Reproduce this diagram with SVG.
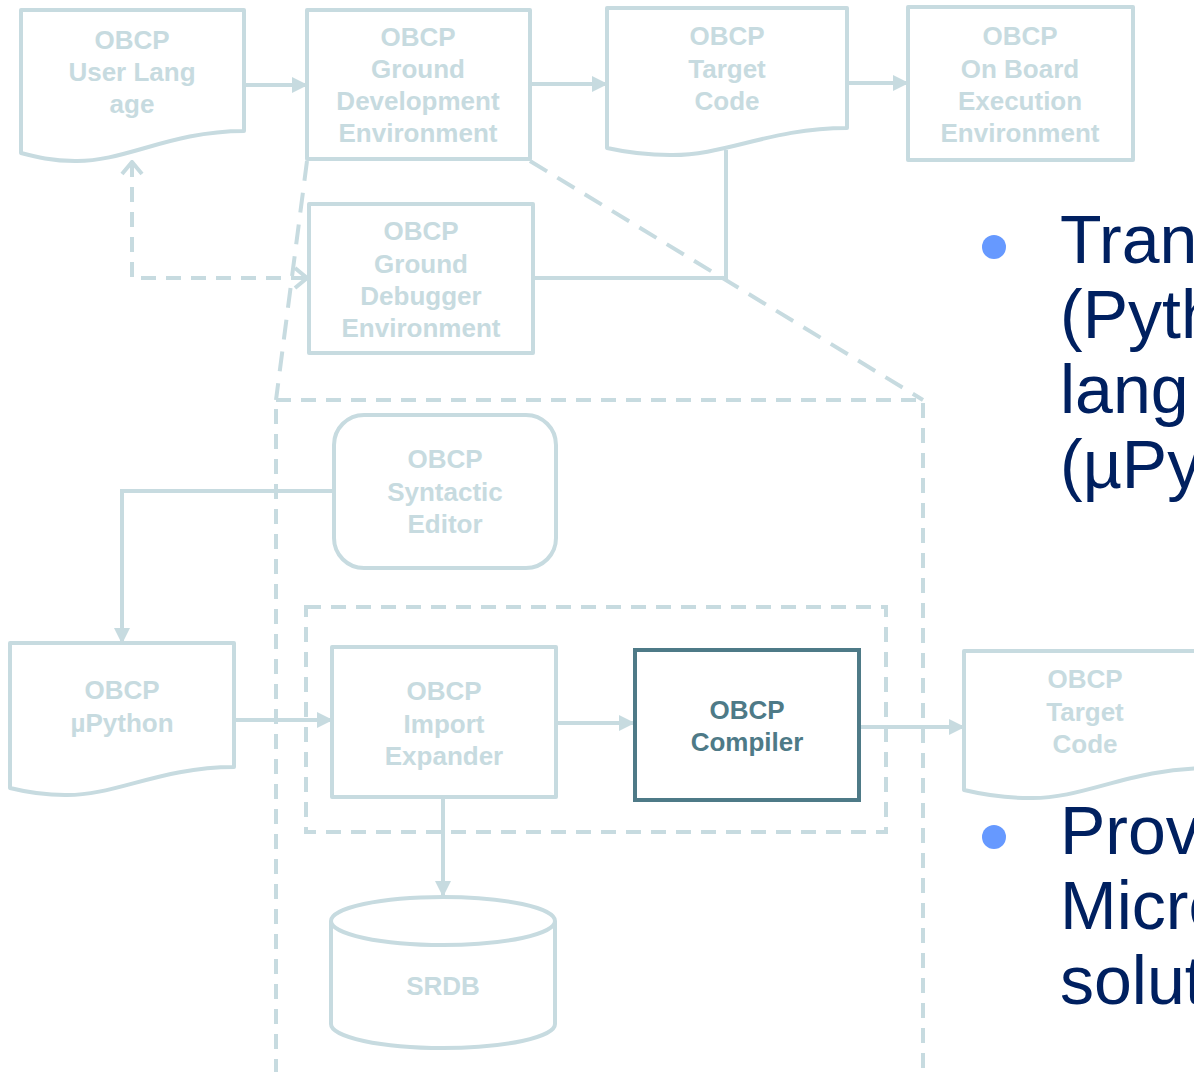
<svg xmlns="http://www.w3.org/2000/svg" width="1194" height="1072" viewBox="0 0 1194 1072">
  <defs>
    <style>
      .shape { fill: #ffffff; stroke: #c7dbe0; stroke-width: 4; stroke-linejoin: round; }
      .dark { fill: #ffffff; stroke: #4e7a87; stroke-width: 4; }
      .lbl { font-family: "Liberation Sans", Arial, sans-serif; font-size: 26px; font-weight: bold; fill: #c7dbe0; text-anchor: middle; }
      .lbl-dark { fill: #4e7a87; }
      .wire { fill: none; stroke: #c7dbe0; stroke-width: 4; }
      .dash { fill: none; stroke: #c7dbe0; stroke-width: 4; stroke-dasharray: 15 10; }
      .dash-long { fill: none; stroke: #c7dbe0; stroke-width: 4; stroke-dasharray: 20 12; }
      .bullet-text { font-family: "Liberation Sans", Arial, sans-serif; font-size: 68px; fill: #002060; }
    </style>
    <marker id="arrow" viewBox="0 0 16 16" refX="15" refY="8" markerWidth="16" markerHeight="16" markerUnits="userSpaceOnUse" orient="auto">
      <path d="M0,0 L16,8 L0,16 Z" fill="#c7dbe0"/>
    </marker>
    <marker id="chevron" viewBox="0 0 16 24" refX="14" refY="12" markerWidth="16" markerHeight="24" markerUnits="userSpaceOnUse" orient="auto-start-reverse">
      <path d="M2,2 L14,12 L2,22" fill="none" stroke="#c7dbe0" stroke-width="4"/>
    </marker>
  </defs>

  <rect width="1194" height="1072" fill="#ffffff"/>

  <!-- zoom outline: detail of the ground development environment -->
  <g id="zoom-frame">
    <line class="dash-long" x1="307" y1="161" x2="276" y2="400"/>
    <line class="dash-long" x1="530" y1="161" x2="923" y2="400"/>
    <rect class="dash" x="276" y="400" width="647" height="690"/>
    <rect class="dash" x="306" y="607" width="580" height="225"/>
  </g>

  <!-- connectors -->
  <g id="connectors">
    <line class="wire" x1="244" y1="85" x2="307" y2="85" marker-end="url(#arrow)"/>
    <line class="wire" x1="530" y1="84" x2="607" y2="84" marker-end="url(#arrow)"/>
    <line class="wire" x1="847" y1="83" x2="908" y2="83" marker-end="url(#arrow)"/>
    <polyline class="wire" points="533,278 726,278 726,150"/>
    <polyline class="dash" points="132,162 132,278 307,278" marker-start="url(#chevron)" marker-end="url(#chevron)"/>
    <polyline class="wire" points="334,491 122,491 122,643" marker-end="url(#arrow)"/>
    <line class="wire" x1="234" y1="720" x2="332" y2="720" marker-end="url(#arrow)"/>
    <line class="wire" x1="556" y1="723" x2="634" y2="723" marker-end="url(#arrow)"/>
    <line class="wire" x1="859" y1="727" x2="964" y2="727" marker-end="url(#arrow)"/>
    <line class="wire" x1="443" y1="797" x2="443" y2="896" marker-end="url(#arrow)"/>
  </g>

  <g id="user-language">
    <path class="shape" d="M21,10 H244 V131 C170,131 125,162 75,161 C52,161 36,157 21,153 Z"/>
    <text class="lbl" x="132" y="49">OBCP</text>
    <text class="lbl" x="132" y="81">User Lang</text>
    <text class="lbl" x="132" y="113">age</text>
  </g>

  <g id="ground-dev-env">
    <rect class="shape" x="307" y="10" width="223" height="149"/>
    <text class="lbl" x="418" y="46">OBCP</text>
    <text class="lbl" x="418" y="78">Ground</text>
    <text class="lbl" x="418" y="110">Development</text>
    <text class="lbl" x="418" y="142">Environment</text>
  </g>

  <g id="target-code">
    <path class="shape" d="M607,8 H847 V128 C770,128 725,156 670,155 C645,155 625,152 607,148 Z"/>
    <text class="lbl" x="727" y="45">OBCP</text>
    <text class="lbl" x="727" y="78">Target</text>
    <text class="lbl" x="727" y="110">Code</text>
  </g>

  <g id="on-board-env">
    <rect class="shape" x="908" y="7" width="225" height="153"/>
    <text class="lbl" x="1020" y="45">OBCP</text>
    <text class="lbl" x="1020" y="78">On Board</text>
    <text class="lbl" x="1020" y="110">Execution</text>
    <text class="lbl" x="1020" y="142">Environment</text>
  </g>

  <g id="ground-debugger-env">
    <rect class="shape" x="309" y="204" width="224" height="149"/>
    <text class="lbl" x="421" y="240">OBCP</text>
    <text class="lbl" x="421" y="273">Ground</text>
    <text class="lbl" x="421" y="305">Debugger</text>
    <text class="lbl" x="421" y="337">Environment</text>
  </g>

  <g id="syntactic-editor">
    <rect class="shape" x="334" y="415" width="222" height="153" rx="30" ry="30"/>
    <text class="lbl" x="445" y="468">OBCP</text>
    <text class="lbl" x="445" y="501">Syntactic</text>
    <text class="lbl" x="445" y="533">Editor</text>
  </g>

  <g id="micropython">
    <path class="shape" d="M10,643 H234 V767 C160,767 115,796 65,795 C42,795 26,792 10,788 Z"/>
    <text class="lbl" x="122" y="699">OBCP</text>
    <text class="lbl" x="122" y="732">µPython</text>
  </g>

  <g id="import-expander">
    <rect class="shape" x="332" y="647" width="224" height="150"/>
    <text class="lbl" x="444" y="700">OBCP</text>
    <text class="lbl" x="444" y="733">Import</text>
    <text class="lbl" x="444" y="765">Expander</text>
  </g>

  <g id="compiler">
    <rect class="dark" x="635" y="650" width="224" height="150"/>
    <text class="lbl lbl-dark" x="747" y="719">OBCP</text>
    <text class="lbl lbl-dark" x="747" y="751">Compiler</text>
  </g>

  <g id="target-code-out">
    <path class="shape" d="M964,651 H1210 V768 C1130,768 1085,799 1030,798 C1005,798 985,795 964,790 Z"/>
    <text class="lbl" x="1085" y="688">OBCP</text>
    <text class="lbl" x="1085" y="721">Target</text>
    <text class="lbl" x="1085" y="753">Code</text>
  </g>

  <g id="srdb">
    <path class="shape" d="M331,921 V1024 A112,24 0 0 0 555,1024 V921"/>
    <ellipse class="shape" cx="443" cy="921" rx="112" ry="24"/>
    <text class="lbl" x="443" y="995">SRDB</text>
  </g>

  <!-- bullet list -->
  <g id="bullets">
    <circle cx="994" cy="247" r="12" fill="#6699ff"/>
    <text class="bullet-text" x="1060" y="263">Tran</text>
    <text class="bullet-text" x="1060" y="338">(Pyth</text>
    <text class="bullet-text" x="1060" y="413">lang</text>
    <text class="bullet-text" x="1060" y="488">(µPy</text>
    <circle cx="994" cy="837" r="12" fill="#6699ff"/>
    <text class="bullet-text" x="1060" y="854">Prov</text>
    <text class="bullet-text" x="1060" y="929">Micro</text>
    <text class="bullet-text" x="1060" y="1004">solut</text>
  </g>
</svg>
